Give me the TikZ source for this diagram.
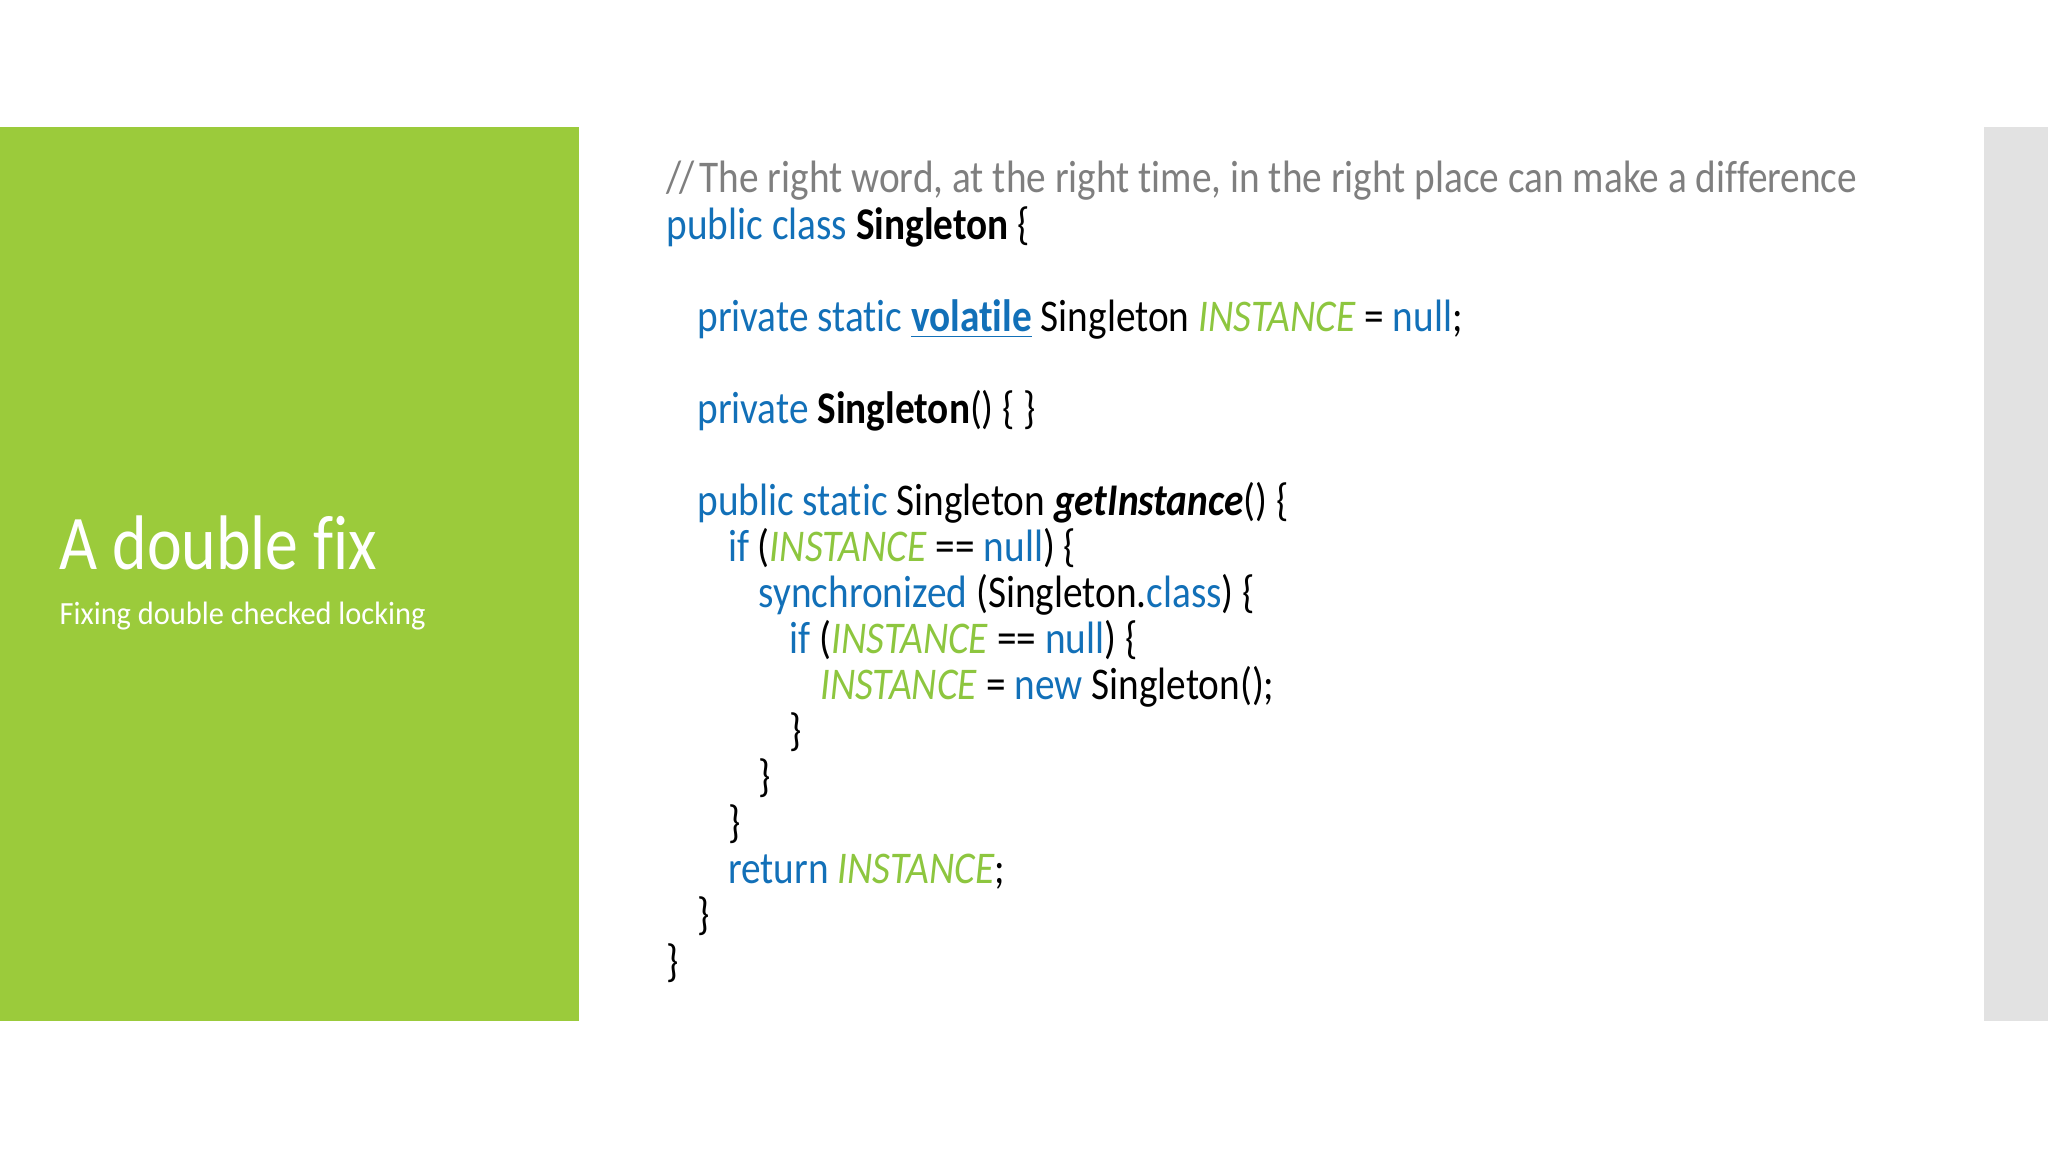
\documentclass[tikz,border=0pt]{standalone}
\usepackage{fontspec}
\setmainfont{Carlito}
\newfontfamily\codefont[FakeStretch=0.866, Ligatures=NoCommon]{Carlito}
\newfontfamily\titlefont[FakeStretch=0.85, Ligatures=NoCommon]{Carlito}
\newfontfamily\subfont[FakeStretch=0.94, Ligatures=NoCommon]{Carlito}
\usepackage{xcolor}
\usepackage{tikz}
\usetikzlibrary{positioning}
\definecolor{panelgreen}{HTML}{9BCB3B}
\definecolor{panelgray}{HTML}{E2E2E2}
\definecolor{kwblue}{HTML}{1270B8}
\definecolor{cngreen}{HTML}{8DC63F}
\definecolor{cmgray}{HTML}{7F7F7F}
\newcommand{\kw}[1]{\textcolor{kwblue}{#1}}
\newcommand{\cn}[1]{\textcolor{cngreen}{\textit{#1}}}
\newcommand{\cm}[1]{\textcolor{cmgray}{#1}}
\tikzset{codeline/.style={anchor=base west,inner sep=0pt,font=\codefont\fontsize{12.9}{15}\selectfont}}

\begin{document}
\begin{tikzpicture}[x=0.01cm, y=-0.01cm]

	\def\dy{46.06};
	\def\dx{30.7};

	\useasboundingbox (0,0) rectangle (2048,1152);
	\fill[white] (0,0) rectangle (2048,1152);
	\fill[panelgreen] (0,127) rectangle (579,1021);
	\fill[panelgray] (1984,127) rectangle (2048,1021);

	\node[anchor=base west, inner sep=0pt, white, font=\titlefont\fontsize{22}{26}\selectfont] (title) at (59,570) {A double fix};
	\node[anchor=base west, inner sep=0pt, white, font=\subfont\fontsize{9.2}{11}\selectfont] (subtitle) at (59,624) {Fixing double checked locking};

	\foreach \i/\lvl/\txt in {
		0/0/{\cm{/\kern-0.06em/\hspace{0.12em}The right word, at the right time, in the right place can make a difference}},
		1/0/{\kw{public class} \textbf{Singleton} \{},
		3/1/{\kw{private static \underline{\textbf{volatile}}} Singleton \cn{INSTANCE} = \kw{null};},
		5/1/{\kw{private} \textbf{Singleton}() \{ \}},
		7/1/{\kw{public static} Singleton \textbf{\textit{getInstance}}() \{},
		8/2/{\kw{if} (\cn{INSTANCE} == \kw{null}) \{},
		9/3/{\kw{synchronized} (Singleton.\kw{class}) \{},
		10/4/{\kw{if} (\cn{INSTANCE} == \kw{null}) \{},
		11/5/{\cn{INSTANCE} = \kw{new} Singleton();},
		12/4/{\}},
		13/3/{\}},
		14/2/{\}},
		15/2/{\kw{return} \cn{INSTANCE};},
		16/1/{\}},
		17/0/{\}}} {
		\node[codeline] (line\i) at (666+\lvl*\dx, 193+\i*\dy) {\txt};
	}

\end{tikzpicture}
\end{document}
